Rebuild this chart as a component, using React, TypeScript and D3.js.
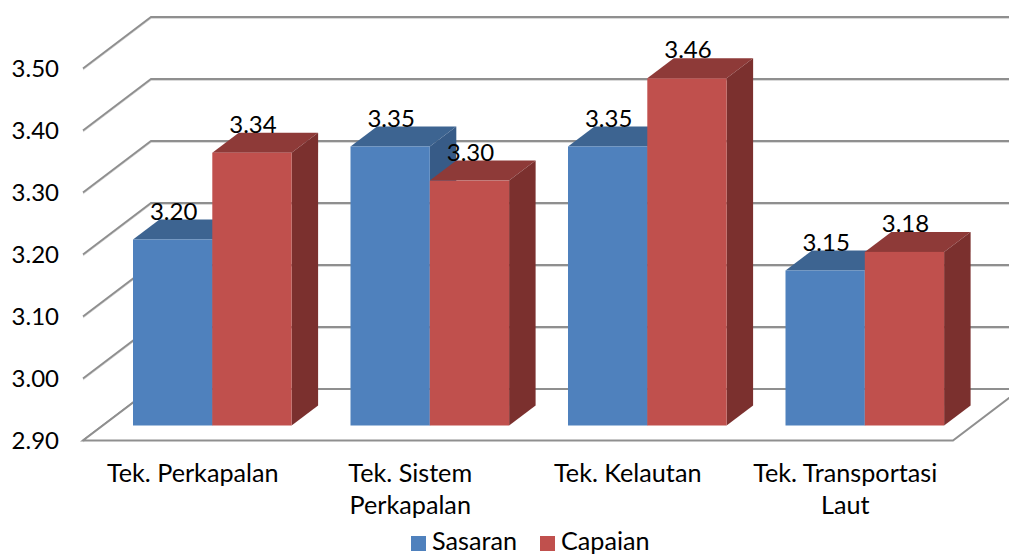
import React from "react";
import * as d3 from "d3";

const categories = ["Tek. Perkapalan", "Tek. Sistem Perkapalan", "Tek. Kelautan", "Tek. Transportasi Laut"];
const categoryLines = [["Tek. Perkapalan"], ["Tek. Sistem", "Perkapalan"], ["Tek. Kelautan"], ["Tek. Transportasi", "Laut"]];
const sasaran = [3.2, 3.35, 3.35, 3.15];
const capaian = [3.34, 3.295, 3.46, 3.18];
const sasaranLabels = ["3.20", "3.35", "3.35", "3.15"];
const capaianLabels = ["3.34", "3.30", "3.46", "3.18"];
const ticks = [2.9, 3.0, 3.1, 3.2, 3.3, 3.4, 3.5];
const seriesNames = ["Sasaran", "Capaian"];

const FONT = "Lato, Carlito, sans-serif";
const GRID = "#8f8f8f";
const W = 1009, H = 554;
const NUM_SIZE = 24;
const TEXT_SIZE = 25.2;

const yFront = d3.scaleLinear().domain([2.9, 3.5]).range([440.5, 68.5]);
const yBar = d3.scaleLinear().domain([2.9, 3.5]).range([425.5, 53.5]);
const xCat = d3.scaleBand<string>().domain(categories).range([83, 953]);
const BACK_DX = 68, BACK_DY = -51.5;
const BAR_PAD = 50, BAR_W = 79.3, DX = 26.5, DY = -20;

const series = [
  { name: seriesNames[0], values: sasaran, labels: sasaranLabels, front: "#4f81bd", top: "#3d6491", side: "#375b87" },
  { name: seriesNames[1], values: capaian, labels: capaianLabels, front: "#c0504d", top: "#8e3a38", side: "#7b302e" },
];

const poly = (pts: number[][]) => pts.map((p) => p.join(",")).join(" ");

export default function App() {
  const yFloor = yFront(2.9);
  return (
    <svg width={W} height={H} style={{ position: "absolute", left: 0, top: 0, background: "#fff" }} fontFamily={FONT}>
      {/* walls: gridlines */}
      {ticks.map((t) => {
        const y = yFront(t);
        const pts = `83,${y} ${83 + BACK_DX},${y + BACK_DY} ${W},${y + BACK_DY}`;
        return (
          <g key={t}>
            <polyline points={pts} fill="none" stroke="#d9d9d9" strokeWidth={1} transform="translate(0,1.5)" />
            <polyline points={pts} fill="none" stroke={GRID} strokeWidth={2} />
          </g>
        );
      })}
      {/* floor */}
      <polygon
        points={poly([[83, yFloor], [953, yFloor], [953 + BACK_DX, yFloor + BACK_DY], [83 + BACK_DX, yFloor + BACK_DY]])}
        fill="#fff"
        stroke="none"
      />
      <polyline
        points={poly([[83 + BACK_DX, yFloor + BACK_DY], [83, yFloor], [953, yFloor], [953 + BACK_DX, yFloor + BACK_DY]])}
        fill="none"
        stroke={GRID}
        strokeWidth={2}
      />
      <line x1={83 + BACK_DX} x2={W} y1={yFloor + BACK_DY} y2={yFloor + BACK_DY} stroke={GRID} strokeWidth={2} />

      {/* bars */}
      {categories.map((c, i) => {
        const x0 = (xCat(c) as number) + BAR_PAD;
        return (
          <g key={c}>
            {series.map((s, j) => {
              const x = x0 + j * BAR_W;
              const yT = yBar(s.values[i]);
              const yB = yBar(2.9);
              return (
                <g key={s.name}>
                  <polygon points={poly([[x, yT], [x + BAR_W, yT], [x + BAR_W + DX, yT + DY], [x + DX, yT + DY]])} fill={s.top} />
                  <polygon points={poly([[x + BAR_W, yT], [x + BAR_W + DX, yT + DY], [x + BAR_W + DX, yB + DY], [x + BAR_W, yB]])} fill={s.side} />
                  <rect x={x} y={yT} width={BAR_W} height={yB - yT} fill={s.front} />
                </g>
              );
            })}
          </g>
        );
      })}

      {/* data labels */}
      {categories.map((c, i) =>
        series.map((s, j) => (
          <text
            key={c + s.name}
            x={(xCat(c) as number) + BAR_PAD + j * BAR_W + BAR_W / 2 + 1}
            y={yBar(s.values[i]) - 20}
            textAnchor="middle"
            fontSize={NUM_SIZE}
            fill="#000"
          >
            {s.labels[i]}
          </text>
        ))
      )}

      {/* value axis */}
      {ticks.map((t) => (
        <text key={t} x={59} y={yFront(t) + 8.5} textAnchor="end" fontSize={NUM_SIZE} fill="#000">
          {t.toFixed(2)}
        </text>
      ))}

      {/* category labels */}
      {categories.map((c, i) =>
        categoryLines[i].map((ln, k) => (
          <text
            key={ln}
            x={(xCat(c) as number) + xCat.bandwidth() / 2 + 1}
            y={482 + k * 32}
            textAnchor="middle"
            fontSize={TEXT_SIZE}
            fill="#000"
          >
            {ln}
          </text>
        ))
      )}

      {/* legend */}
      <rect x={411} y={536} width={15} height={15} fill={series[0].front} />
      <text x={432} y={549.5} fontSize={TEXT_SIZE} fill="#000">{seriesNames[0]}</text>
      <rect x={540} y={536} width={15} height={15} fill={series[1].front} />
      <text x={561} y={549.5} fontSize={TEXT_SIZE} fill="#000">{seriesNames[1]}</text>
    </svg>
  );
}
